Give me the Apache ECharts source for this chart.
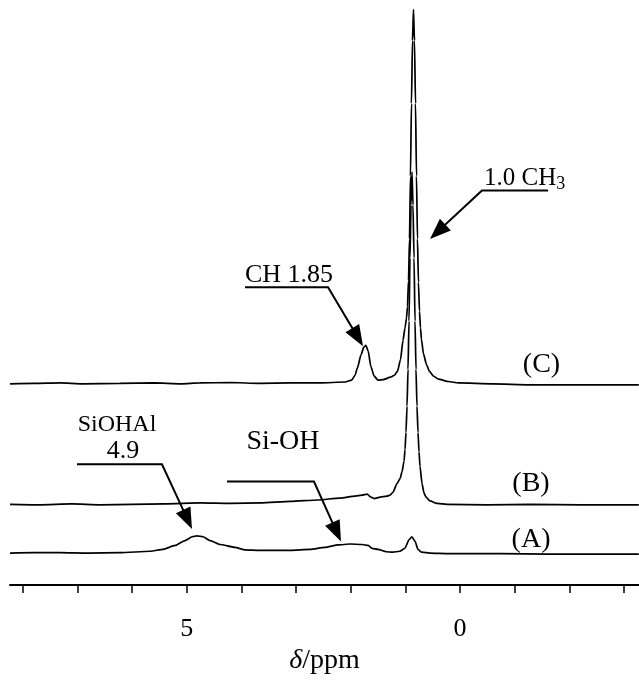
<!DOCTYPE html>
<html>
<head>
<meta charset="utf-8">
<title>1H NMR spectra</title>
<script src="https://cdn.jsdelivr.net/npm/echarts@6/dist/echarts.min.js"></script>
<style>
  html, body { margin: 0; padding: 0; background: #fff; }
  #main { width: 639px; height: 680px; }
</style>
</head>
<body>
<div id="main"></div>
<script>
// chemical shift (ppm) , intensity above own baseline (arbitrary units)
var traceA = [
  [8.23, 0], [7.80, 0.5], [7.32, 0.5], [6.80, 0], [6.22, 0.5], [5.67, 2], [5.43, 4],
  [5.21, 8], [5.03, 13], [4.90, 17], [4.81, 18], [4.70, 17], [4.57, 13], [4.39, 9],
  [4.12, 6], [3.93, 3.5], [3.66, 3], [3.48, 3], [3.11, 3], [2.74, 4], [2.47, 6],
  [2.23, 8.5], [2.01, 9.5], [1.79, 9], [1.68, 8], [1.61, 5], [1.50, 4], [1.35, 1.5],
  [1.23, 1], [1.10, 2], [1.01, 5], [0.93, 14], [0.88, 17], [0.82, 12], [0.77, 4],
  [0.70, 1], [0.55, 0], [0.20, -0.5], [-0.73, -0.5], [-1.60, -1], [-2.50, -1], [-3.27, -1]
];
var traceB = [
  [8.23, 0.5], [7.70, 0], [7.10, 1], [6.58, 0], [6.00, 0.5], [5.40, 1], [4.74, 2],
  [4.20, 1.5], [3.64, 2], [3.10, 3.5], [2.60, 5], [2.20, 7], [1.92, 9], [1.79, 10],
  [1.70, 11], [1.63, 8], [1.57, 6.5], [1.46, 8], [1.335, 9], [1.280, 10], [1.226, 13],
  [1.152, 22], [1.097, 27], [1.061, 34], [1.024, 45], [1.006, 57], [0.988, 75],
  [0.969, 102], [0.951, 140], [0.933, 190], [0.915, 255], [0.896, 310], [0.878, 344],
  [0.860, 310], [0.841, 255], [0.823, 190], [0.805, 140], [0.787, 102], [0.768, 75],
  [0.750, 55], [0.732, 40], [0.695, 22], [0.658, 12], [0.622, 8], [0.549, 4],
  [0.421, 1.5], [0.238, 0.5], [-0.50, 0], [-1.30, 0.5], [-2.20, 0], [-3.27, 0]
];
var traceC = [
  [8.23, 0], [7.80, 0.5], [7.32, 1], [6.90, 0], [6.22, 0.5], [5.60, 1], [5.10, 0],
  [4.76, 1], [4.20, 1.5], [3.66, 0.5], [3.10, 1], [2.56, 1], [2.10, 2], [1.98, 4],
  [1.92, 9], [1.88, 16], [1.81, 30], [1.76, 38], [1.72, 40], [1.68, 34], [1.63, 18],
  [1.57, 8], [1.50, 4], [1.40, 4.5], [1.272, 7], [1.199, 9], [1.144, 13], [1.089, 25],
  [1.043, 45], [1.006, 58], [0.979, 68], [0.961, 80], [0.942, 107], [0.924, 150],
  [0.906, 215], [0.888, 290], [0.869, 355], [0.851, 387], [0.833, 355], [0.814, 290],
  [0.796, 215], [0.778, 150], [0.760, 105], [0.741, 75], [0.723, 58], [0.705, 46],
  [0.668, 31], [0.613, 20], [0.558, 13], [0.485, 8], [0.394, 5], [0.211, 2.5],
  [0.028, 1], [-0.60, 0], [-1.28, -1], [-1.90, -1], [-2.56, -1], [-3.27, -1]
];
// vertical offsets of the stacked spectra
var offsetA = 33, offsetB = 83, offsetC = 208;

var xTicks = [8, 7, 6, 5, 4, 3, 2, 1, 0, -1, -2, -3];
var xLabels = [5, 0];

function shift(trace, off) {
  return trace.map(function (p) { return [p[0], p[1] + off]; });
}

var chart = echarts.init(document.getElementById('main'));
var serif = '"Liberation Serif", "DejaVu Serif", serif';

var lineStyle = { color: '#000', width: 1.7 };
function spectrum(name, data) {
  return {
    name: name, type: 'line', data: data, showSymbol: false,
    smooth: 0.2, smoothMonotone: 'x',
    lineStyle: lineStyle, silent: true
  };
}

var option = {
  animation: false,
  grid: { left: 10, right: 0, top: 0, bottom: 75 },
  xAxis: {
    type: 'value', inverse: true, min: -3.274, max: 8.231,
    axisLine: { lineStyle: { color: '#000', width: 2 } },
    axisTick: { customValues: xTicks, length: 8, lineStyle: { color: '#000', width: 1.5 } },
    axisLabel: { customValues: xLabels, color: '#000', fontFamily: serif, fontSize: 26, margin: 31 },
    splitLine: { show: false },
    name: '{i|δ}/ppm', nameLocation: 'middle', nameGap: 42,
    nameTextStyle: {
      color: '#000', fontFamily: serif, fontSize: 28,
      rich: { i: { fontStyle: 'italic', fontFamily: serif, fontSize: 28, color: '#000' } }
    }
  },
  yAxis: { type: 'value', min: 0, max: 605, show: false },
  series: [
    spectrum('A', shift(traceA, offsetA)),
    spectrum('B', shift(traceB, offsetB)),
    spectrum('C', shift(traceC, offsetC))
  ]
};
chart.setOption(option);

// annotations, in data coordinates [ppm, value]
var leaders = [
  [[-1.610, 408], [-0.402, 408], [0.549, 358]],   // 1.0 CH3
  [[3.933, 308], [2.414, 308], [1.774, 247]],     // CH 1.85
  [[7.006, 125], [5.451, 125], [4.902, 58]],      // SiOHAl 4.9
  [[4.262, 107], [2.671, 107], [2.177, 45]]       // Si-OH
];
var texts = [
  { t: '1.0 CH{s|3}', at: [-0.439, 421], align: 'left', size: 25 },
  { t: 'CH 1.85', at: [3.933, 320], align: 'left', size: 26 },
  { t: 'SiOHAl', at: [6.274, 166], align: 'center', size: 24 },
  { t: '4.9', at: [6.164, 138], align: 'center', size: 26 },
  { t: 'Si-OH', at: [3.238, 148], align: 'center', size: 28 },
  { t: '(C)', at: [-1.490, 228], align: 'center', size: 28 },
  { t: '(B)', at: [-1.299, 105], align: 'center', size: 28 },
  { t: '(A)', at: [-1.299, 47], align: 'center', size: 28 }
];

function toPx(p) { return chart.convertToPixel({ xAxisIndex: 0, yAxisIndex: 0 }, p); }

var graphics = [];
leaders.forEach(function (pts) {
  var px = pts.map(toPx);
  var tip = px[2], from = px[1];
  var dx = tip[0] - from[0], dy = tip[1] - from[1];
  var len = Math.sqrt(dx * dx + dy * dy);
  var ux = dx / len, uy = dy / len, nx = -uy, ny = ux;
  var L = 21, W = 8;
  var base = [tip[0] - ux * L, tip[1] - uy * L];
  graphics.push({
    type: 'polyline',
    shape: { points: [px[0], px[1], [tip[0] - ux * (L - 4), tip[1] - uy * (L - 4)]] },
    style: { stroke: '#000', lineWidth: 2, fill: null }
  });
  graphics.push({
    type: 'polygon',
    shape: { points: [tip, [base[0] + nx * W, base[1] + ny * W], [base[0] - nx * W, base[1] - ny * W]] },
    style: { fill: '#000' }
  });
});
texts.forEach(function (d) {
  var p = toPx(d.at);
  graphics.push({
    type: 'text', x: p[0], y: p[1],
    style: {
      text: d.t, fill: '#000', font: d.size + 'px ' + serif,
      align: d.align, verticalAlign: 'middle',
      rich: { s: { fontSize: 18, fontFamily: serif, padding: [13, 0, 0, 0], fill: '#000' } }
    }
  });
});
chart.setOption({ graphic: graphics });
</script>
</body>
</html>
